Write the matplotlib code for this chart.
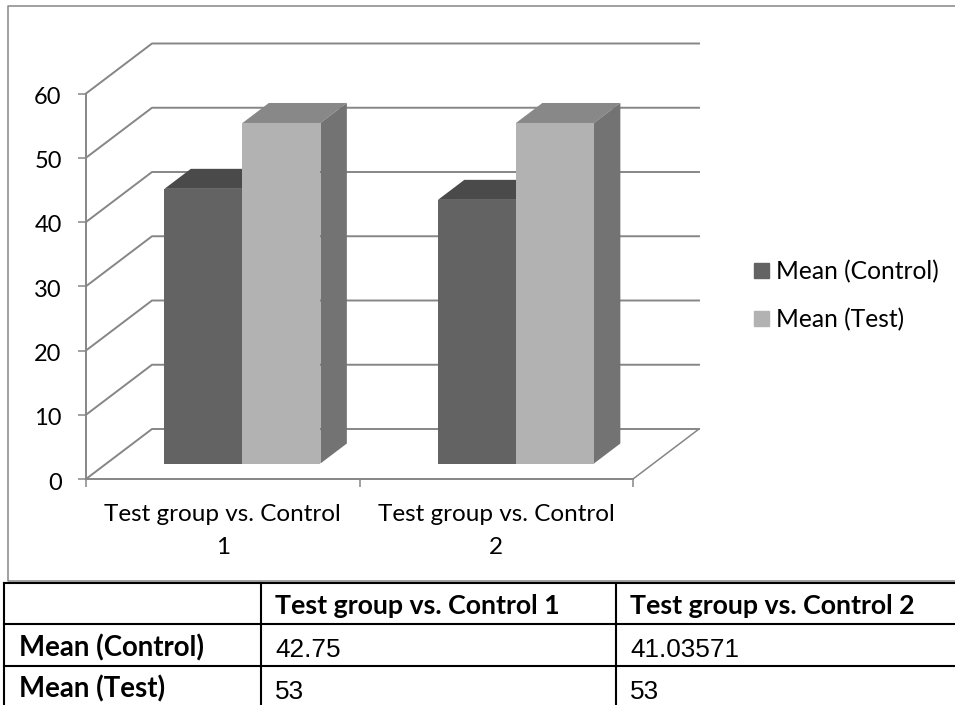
import matplotlib
matplotlib.use("Agg")
import matplotlib.pyplot as plt
from matplotlib.patches import Patch
from matplotlib.transforms import ScaledTranslation

categories = ["Test group vs. Control 1", "Test group vs. Control 2"]
axis_labels = ["Test group vs. Control\n1", "Test group vs. Control\n2"]
series_names = ["Mean (Control)", "Mean (Test)"]
control = [42.75, 41.03571]
test = [53, 53]
y_ticks = [0, 10, 20, 30, 40, 50, 60]

W, H = 955, 705
GRID = "#868686"
# face colours: front, top, side
DARK = ("#636363", "#4a4a4a", "#565656")
LIGHT = ("#b2b2b2", "#888888", "#737373")

fig = plt.figure(figsize=(W / 100, H / 100), dpi=100, facecolor="white")

# page axes in pixels, for the chart frame and the table
page = fig.add_axes([0, 0, 1, 1])
page.set_xlim(0, W)
page.set_ylim(H, 0)
page.axis("off")
page.plot([W, 8, 8, W], [6, 6, 581, 581], color=GRID, lw=1.1)

# front plane of the fake 3d chart
ax = fig.add_axes([86 / W, (H - 479) / H, 547 / W, 385.5 / H])
ax.patch.set_alpha(0)
DX = 66 / 273.5   # depth per unit, in category units
DY = 50 / 6.425   # depth per unit, in value units


def proj(x, v, depth):
    return x + depth * DX, v + depth * DY


for v in y_ticks:
    x0, y0 = proj(0, v, 1)
    x1, y1 = proj(2, v, 1)
    ax.plot([0, x0, x1], [v, y0, y1], color=GRID, lw=1.4, clip_on=False, zorder=1)
x0, y0 = proj(2, 0, 1)
ax.plot([2, x0], [0, y0], color=GRID, lw=1.1, clip_on=False, zorder=1)

BAR_W = 78 / 273.5
D0, D1 = 0.31, 0.71


def bar3d(left, value, colors):
    right = left + BAR_W
    x = [proj(left, value, D0), proj(right, value, D0), proj(right, value, D1), proj(left, value, D1)]
    ax.fill([p[0] for p in x], [p[1] for p in x], color=colors[1], lw=0, clip_on=False, zorder=3)
    x = [proj(right, 0, D0), proj(right, 0, D1), proj(right, value, D1), proj(right, value, D0)]
    ax.fill([p[0] for p in x], [p[1] for p in x], color=colors[2], lw=0, clip_on=False, zorder=3)
    x = [proj(left, 0, D0), proj(right, 0, D0), proj(right, value, D0), proj(left, value, D0)]
    ax.fill([p[0] for p in x], [p[1] for p in x], color=colors[0], lw=0, clip_on=False, zorder=3)


for i in range(len(categories)):
    start = i + 58 / 273.5
    bar3d(start, control[i], DARK)
    bar3d(start + BAR_W, test[i], LIGHT)

ax.set_xlim(0, 2)
ax.set_ylim(0, 60)
ax.spines["top"].set_visible(False)
ax.spines["right"].set_visible(False)
ax.spines["left"].set_color(GRID)
ax.spines["bottom"].set_color(GRID)
ax.spines["left"].set_linewidth(1.4)
ax.spines["bottom"].set_linewidth(1.4)

ax.set_yticks(y_ticks)
ax.set_xticks([0, 1, 2])
ax.set_xticklabels([])
ax.set_xticks([0.5, 1.5], minor=True)
ax.set_xticklabels(axis_labels, minor=True, fontfamily="Lato", fontsize=17.5, linespacing=1.72)
ax.tick_params(axis="x", which="major", length=5.5, width=1.1, color=GRID)
ax.tick_params(axis="x", which="minor", length=0, pad=18)
ax.tick_params(axis="y", length=5.5, width=1.1, color=GRID, pad=12, labelsize=17)
nudge = ScaledTranslation(0, -2 / 100, fig.dpi_scale_trans)
for t in ax.get_yticklabels():
    t.set_fontfamily("Lato")
    t.set_transform(t.get_transform() + nudge)

handles = [Patch(color=DARK[0]), Patch(color=LIGHT[0])]
fig.legend(handles, series_names, loc="center left", bbox_to_anchor=(732 / W, 1 - 295.5 / H),
           frameon=False, prop={"family": "Lato", "size": 17.7},
           handlelength=0.6, handleheight=0.6, handletextpad=0.3, labelspacing=1.0)

# table under the chart
col_x = [4, 261, 616]
row_y = [583, 624, 666]
for y in row_y:
    page.plot([col_x[0], W], [y, y], color="black", lw=1.5)
for x in col_x:
    page.plot([x, x], [row_y[0], H], color="black", lw=1.5)

bold = {"family": "Lato", "weight": "bold", "va": "center"}
plain = {"family": "Liberation Sans", "size": 18.8, "va": "center"}
page.text(col_x[1] + 14, 606, categories[0], size=19.3, **bold)
page.text(col_x[2] + 14, 606, categories[1], size=19.3, **bold)
page.text(19, 648, series_names[0], size=19.9, **bold)
page.text(19, 689, series_names[1], size=19.9, **bold)
page.text(col_x[1] + 14, 650, str(control[0]), **plain)
page.text(col_x[2] + 14, 650, str(control[1]), **plain)
page.text(col_x[1] + 14, 692, str(test[0]), **plain)
page.text(col_x[2] + 14, 692, str(test[1]), **plain)

fig.savefig("out.png", dpi=100)
